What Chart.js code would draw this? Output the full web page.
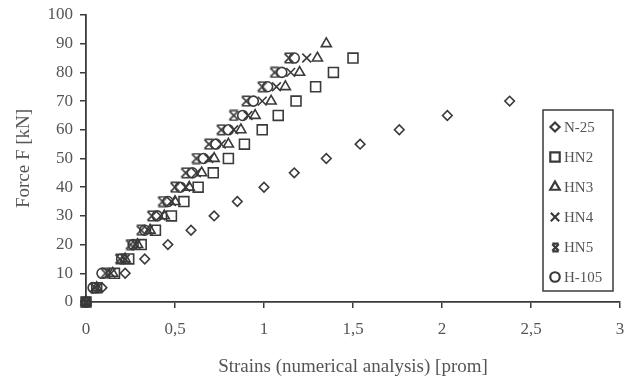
<!DOCTYPE html>
<html>
<head>
<meta charset="utf-8">
<script src="https://cdn.jsdelivr.net/npm/chart.js@4/dist/chart.umd.min.js"></script>
<style>
html,body{margin:0;padding:0;background:#fff;}
#wrap{width:631px;height:378px;position:relative;}
</style>
</head>
<body>
<div id="wrap"><canvas id="c" width="631" height="378"></canvas></div>
<script>
// Force levels [kN]
const forceN25 = [0,5,10,15,20,25,30,35,40,45,50,55,60,65,70];
const forceHN  = [0,5,10,15,20,25,30,35,40,45,50,55,60,65,70,75,80,85];
const forceHN3 = [0,5,10,15,20,25,30,35,40,45,50,55,60,65,70,75,80,85,90];
// Strains [prom] per series
const strainN25  = [0,0.09,0.22,0.33,0.46,0.59,0.72,0.85,1.00,1.17,1.35,1.54,1.76,2.03,2.38];
const strainHN2  = [0,0.06,0.16,0.24,0.31,0.39,0.48,0.55,0.63,0.715,0.80,0.89,0.99,1.08,1.18,1.29,1.39,1.50];
const strainHN3  = [0,0.06,0.15,0.22,0.29,0.36,0.44,0.50,0.58,0.65,0.72,0.80,0.87,0.95,1.04,1.12,1.20,1.30,1.35];
const strainHN4  = [0,0.05,0.14,0.22,0.28,0.35,0.42,0.48,0.56,0.62,0.69,0.76,0.83,0.91,0.99,1.07,1.15,1.24];
const strainHN5  = [0,0.05,0.11,0.19,0.25,0.31,0.37,0.43,0.50,0.56,0.62,0.69,0.76,0.83,0.90,0.99,1.06,1.14];
const strainH105 = [0,0.04,0.09,0.20,0.265,0.33,0.40,0.46,0.53,0.597,0.66,0.73,0.80,0.88,0.94,1.02,1.10,1.17];

const seriesNames = ['N-25','HN2','HN3','HN4','HN5','H-105'];
const xTicks = [0,0.5,1,1.5,2,2.5,3];
const xTickLabels = ['0','0,5','1','1,5','2','2,5','3'];
const yTicks = [0,10,20,30,40,50,60,70,80,90,100];

const INK = '#3a3a3a';
const TXT = '#555555';
const FONT = "'Liberation Serif', 'DejaVu Serif', serif";

function pts(xs, ys){ return xs.map((x,i)=>({x:x, y:ys[i]})); }

// custom "X with bars" marker used for HN5
function makeStar(size, lw){
  const c = document.createElement('canvas');
  c.width = size; c.height = size;
  const g = c.getContext('2d');
  const p = lw, q = size - lw;
  g.strokeStyle = INK; g.lineWidth = lw; g.lineCap = 'butt';
  g.beginPath();
  g.moveTo(p, p); g.lineTo(q, q);
  g.moveTo(q, p); g.lineTo(p, q);
  g.moveTo(p, p - lw/2 + 0.5); g.lineTo(q, p - lw/2 + 0.5);
  g.moveTo(p, q + lw/2 - 0.5); g.lineTo(q, q + lw/2 - 0.5);
  g.stroke();
  return c;
}
const starPlot = makeStar(12, 1.6);
const starLegend = makeStar(11, 2.3);

const styles = [
  {ps:'rectRot', r:4.8},
  {ps:'rect', r:7},
  {ps:'triangle', r:5.8},
  {ps:'crossRot', r:6.2},
  {ps:starPlot, r:6},
  {ps:'circle', r:5}
];
const dataSets = [
  pts(strainN25, forceN25),
  pts(strainHN2, forceHN),
  pts(strainHN3, forceHN3),
  pts(strainHN4, forceHN),
  pts(strainHN5, forceHN),
  pts(strainH105, forceHN)
];

const datasets = seriesNames.map((n,i)=>({
  label:n,
  data:dataSets[i],
  pointStyle:styles[i].ps,
  pointRadius:styles[i].r,
  pointHoverRadius:styles[i].r,
  pointBorderWidth:1.6,
  borderColor:INK,
  pointBorderColor:INK,
  backgroundColor:'rgba(0,0,0,0)',
  pointBackgroundColor:'rgba(0,0,0,0)',
  showLine:false,
  clip:false
}));

function drawMarker(ctx, style, r, x, y){
  if (typeof style !== 'string'){
    ctx.drawImage(starLegend, Math.round(x - starLegend.width/2), Math.round(y - starLegend.height/2));
    return;
  }
  if (Chart.helpers && Chart.helpers.drawPoint){
    Chart.helpers.drawPoint(ctx, {pointStyle:style, radius:r, rotation:0, borderWidth:ctx.lineWidth}, x, y);
  }
}

const legendBox = {
  id:'legendBox',
  afterDraw(chart){
    const ctx = chart.ctx, a = chart.chartArea;
    const left = a.right - 77, top = a.top + 95, w = 70, h = 181;
    ctx.save();
    ctx.strokeStyle = INK; ctx.lineWidth = 1.5;
    ctx.strokeRect(left, top, w, h);
    ctx.font = "15px " + FONT;
    ctx.textBaseline = 'middle';
    ctx.textAlign = 'left';
    chart.data.datasets.forEach((ds,i)=>{
      const yy = top + 17 + i*30;
      ctx.strokeStyle = INK; ctx.fillStyle = 'rgba(0,0,0,0)'; ctx.lineWidth = 2.2;
      drawMarker(ctx, ds.pointStyle, ds.pointRadius*0.95, left + 12, yy);
      ctx.fillStyle = TXT;
      ctx.fillText(ds.label, left + 21, yy + 1);
    });
    ctx.restore();
  }
};

new Chart(document.getElementById('c'), {
  type:'scatter',
  data:{datasets:datasets},
  plugins:[legendBox],
  options:{
    responsive:false,
    animation:false,
    events:[],
    layout:{padding:{left:0,right:11,top:15,bottom:0}, autoPadding:false},
    plugins:{legend:{display:false}, tooltip:{enabled:false}},
    scales:{
      x:{
        type:'linear', min:0, max:3,
        afterBuildTicks(s){ s.ticks = xTicks.map(v=>({value:v})); },
        afterFit(s){ s.height = 76; s.paddingLeft = 0; s.paddingRight = 0; },
        ticks:{
          callback:(v)=>{ const i = xTicks.indexOf(v); return i>=0 ? xTickLabels[i] : ''; },
          color:TXT, font:{family:FONT, size:17}, padding:11, maxRotation:0
        },
        grid:{drawOnChartArea:false, drawTicks:true, tickLength:6, color:INK, lineWidth:1.5},
        border:{display:true, color:INK, width:1.8},
        title:{display:true, text:'Strains (numerical analysis) [prom]', color:TXT,
               font:{family:FONT, size:19}, padding:{top:4,bottom:0}}
      },
      y:{
        type:'linear', min:0, max:100,
        afterBuildTicks(s){ s.ticks = yTicks.map(v=>({value:v})); },
        afterFit(s){ s.width = 86; s.paddingTop = 0; s.paddingBottom = 0; },
        ticks:{color:TXT, font:{family:FONT, size:17}, padding:7},
        grid:{drawOnChartArea:false, drawTicks:true, tickLength:6, color:INK, lineWidth:1.5},
        border:{display:true, color:INK, width:1.8},
        title:{display:true, text:'Force F [kN]', color:TXT,
               font:{family:FONT, size:19}, padding:{top:13,bottom:0}}
      }
    }
  }
});
</script>
</body>
</html>
